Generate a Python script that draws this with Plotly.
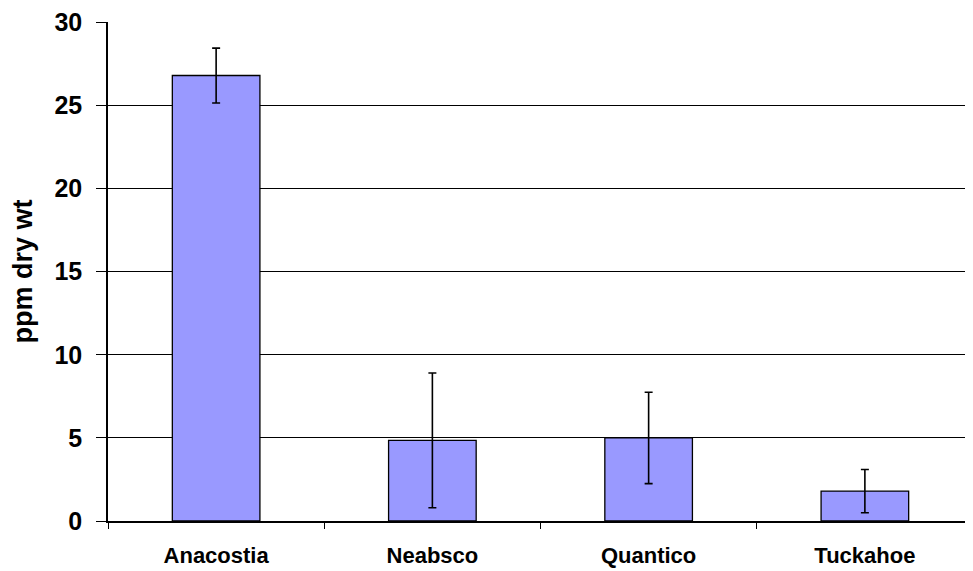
import plotly.graph_objects as go

categories = ["Anacostia", "Neabsco", "Quantico", "Tuckahoe"]
values = [26.8, 4.85, 5.0, 1.8]
errors = [1.65, 4.05, 2.75, 1.3]
y_ticks = [0, 5, 10, 15, 20, 25, 30]

fig = go.Figure()
fig.add_trace(go.Bar(
    x=categories, y=values,
    width=0.405,
    marker=dict(color="#9999FF", line=dict(color="#000000", width=1.3)),
    error_y=dict(type="data", array=errors, visible=True, color="#000000",
                 thickness=1.6, width=4),
))

fig.update_layout(
    width=965, height=563,
    margin=dict(l=100, r=0, t=14, b=50),
    paper_bgcolor="white", plot_bgcolor="white",
    showlegend=False,
    font=dict(family="Liberation Sans, Arial, sans-serif", color="#000000"),
    xaxis=dict(
        type="category", range=[-0.5, 3.5],
        tickson="boundaries", ticks="outside", ticklen=6, tickwidth=1, tickcolor="#000000",
        showline=True, linecolor="#000000", linewidth=1.5,
        showgrid=False,
        tickfont=dict(size=22, family="Liberation Sans, Arial, sans-serif", weight="bold"),
        ticklabelstandoff=14,
    ),
    yaxis=dict(
        range=[0, 30.02], tickvals=y_ticks,
        ticks="outside", ticklen=10, tickwidth=1, tickcolor="#000000",
        showline=True, linecolor="#000000", linewidth=1.5,
        showgrid=True, gridcolor="#000000", gridwidth=1,
        zeroline=False,
        tickfont=dict(size=25, family="Liberation Sans, Arial, sans-serif", weight="bold"),
        ticklabelstandoff=9,
        title=dict(text="ppm dry wt", standoff=16,
                   font=dict(size=27, family="Liberation Sans, Arial, sans-serif", weight="bold")),
    ),
)

fig.write_html("out.html")
